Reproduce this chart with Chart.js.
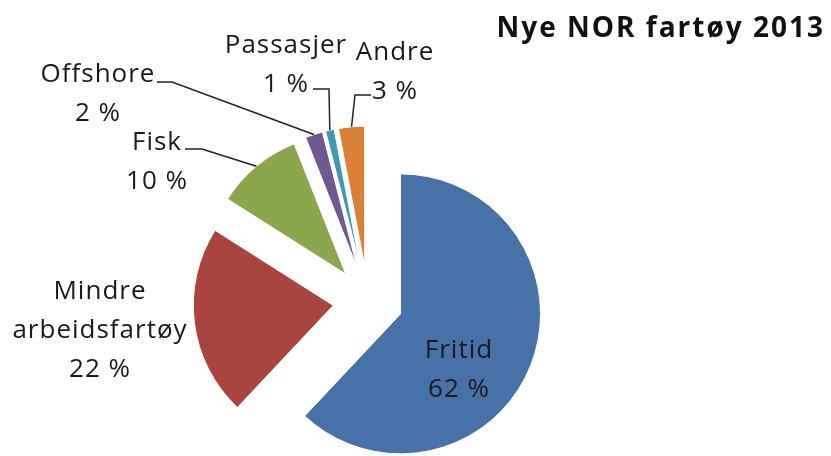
<!DOCTYPE html>
<html>
<head>
<meta charset="utf-8">
<title>Nye NOR fartøy 2013</title>
<script src="https://cdn.jsdelivr.net/npm/chart.js@4.4.0/dist/chart.umd.min.js"></script>
<style>
  html, body { margin: 0; padding: 0; background: #fff; }
</style>
</head>
<body>
<canvas id="chart" width="831" height="456"></canvas>
<script>
const title = "Nye NOR fartøy 2013";
const categories = ["Fritid", "Mindre arbeidsfartøy", "Fisk", "Offshore", "Passasjer", "Andre"];
const shares = [62, 22, 10, 2, 1, 3];
const colors = ["#4672a8", "#a9443f", "#8aa74e", "#71588f", "#4198af", "#da8137"];

// where each label sits (text centre x, first baseline y) and its leader line
const labelSpots = [
  { x: 459, y: 358 },
  { x: 100, y: 299 },
  { x: 157, y: 150, lead: [185, 202, 149] },
  { x: 98, y: 82, lead: [157, 172, 82] },
  { x: 286, y: 53, lead: [313, 329, 89] },
  { x: 395, y: 60, lead: [371, 355, 95] },
];

// arc that moves out the whole offset (no radius growth like the stock arc)
class ExplodedArc extends Chart.ArcElement {
  draw(ctx) {
    const opts = this.options;
    const shift = opts.offset || 0;
    const mid = (this.startAngle + this.endAngle) / 2;
    ctx.save();
    ctx.translate(Math.cos(mid) * shift, Math.sin(mid) * shift);
    this.options = Object.assign({}, opts, { offset: 0 });
    super.draw(ctx);
    this.options = opts;
    ctx.restore();
  }
}
ExplodedArc.id = "explodedArc";

class ExplodedPie extends Chart.PieController {}
ExplodedPie.id = "explodedPie";
ExplodedPie.defaults = { dataElementType: "explodedArc" };

Chart.register(ExplodedArc, ExplodedPie);

const pieLabels = {
  id: "pieLabels",
  afterDatasetsDraw(chart) {
    const ctx = chart.ctx;
    const meta = chart.getDatasetMeta(0);
    ctx.save();

    ctx.fillStyle = "#111";
    ctx.font = 'bold 28px "Open Sans"';
    ctx.letterSpacing = "2px";
    ctx.textAlign = "right";
    ctx.textBaseline = "alphabetic";
    ctx.fillText(title, 825, 37);

    ctx.fillStyle = "#1a1a1a";
    ctx.font = '26px "Open Sans"';
    ctx.letterSpacing = "1px";
    ctx.textAlign = "center";
    ctx.strokeStyle = "#222";
    ctx.lineWidth = 1.5;
    meta.data.forEach(function (arc, i) {
      const spot = labelSpots[i];
      const lines = categories[i].split(" ").concat([shares[i] + " %"]);
      lines.forEach(function (t, k) {
        ctx.fillText(t, spot.x, spot.y + k * 39);
      });
      if (spot.lead) {
        const mid = (arc.startAngle + arc.endAngle) / 2;
        const reach = (arc.options.offset || 0) + arc.outerRadius;
        ctx.beginPath();
        ctx.moveTo(spot.lead[0], spot.lead[2]);
        ctx.lineTo(spot.lead[1], spot.lead[2]);
        ctx.lineTo(arc.x + Math.cos(mid) * reach, arc.y + Math.sin(mid) * reach);
        ctx.stroke();
      }
    });
    ctx.restore();
  },
};

new Chart(document.getElementById("chart"), {
  type: "explodedPie",
  data: {
    labels: categories,
    datasets: [
      {
        data: shares,
        backgroundColor: colors,
        borderColor: "#fff",
        borderWidth: 1,
        offset: 35,
        radius: 140,
        clip: false,
      },
    ],
  },
  options: {
    responsive: false,
    animation: false,
    events: [],
    layout: { padding: { left: 0, right: 95, top: 146, bottom: 0 } },
    plugins: {
      legend: { display: false },
      tooltip: { enabled: false },
    },
  },
  plugins: [pieLabels],
});
</script>
</body>
</html>
